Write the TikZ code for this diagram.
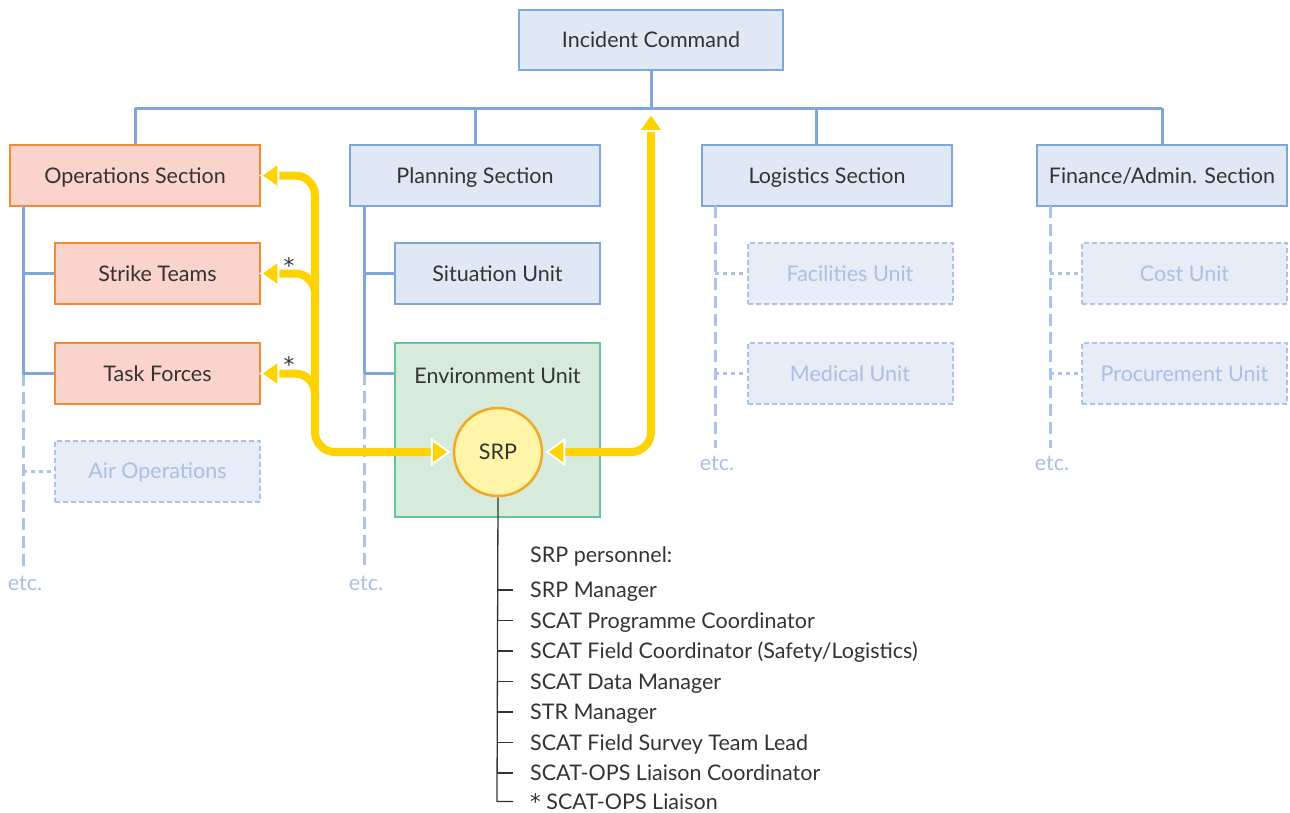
\documentclass[tikz,border=0pt]{standalone}
\usepackage{fontspec}
\setmainfont{Lato}
\newfontfamily\starfont{DejaVu Sans}
\usetikzlibrary{arrows.meta}

\definecolor{secfill}{HTML}{E0E8F5}
\definecolor{secline}{HTML}{7EA6DA}
\definecolor{opsfill}{HTML}{FAD4CA}
\definecolor{opsline}{HTML}{F58A2E}
\definecolor{envfill}{HTML}{D7EBDD}
\definecolor{envline}{HTML}{62C59B}
\definecolor{srpfill}{HTML}{FFF5A8}
\definecolor{srpline}{HTML}{F5A623}
\definecolor{ghostfill}{HTML}{E7ECF6}
\definecolor{ghostline}{HTML}{ABC3EA}
\definecolor{ghosttext}{HTML}{A9BFE6}
\definecolor{ink}{HTML}{333333}
\definecolor{flowc}{HTML}{FFD300}

\newcommand{\starmark}{{\starfont *}}

\tikzset{
  txt/.style={font=\fontsize{21.5}{26}\selectfont, text=ink, inner sep=0pt,
    text height=16pt, text depth=1pt},
  box/.style={txt, rectangle, line width=2.5pt, minimum height=61pt},
  section/.style={box, draw=secline, fill=secfill, minimum width=250pt},
  unitbox/.style={box, draw=secline, fill=secfill, minimum width=205pt},
  opsbox/.style={draw=opsline, fill=opsfill},
  ghost/.style={unitbox, draw=ghostline, fill=ghostfill, text=ghosttext,
    line width=2pt, dash pattern=on 5pt off 3pt},
  envbox/.style={rectangle, draw=envline, fill=envfill, line width=2.5pt,
    minimum width=205pt, minimum height=174pt},
  srpnode/.style={txt, circle, draw=srpline, fill=srpfill, line width=2.5pt,
    minimum size=88pt},
  tree/.style={draw=secline, line width=3pt},
  treedash/.style={draw=ghostline, line width=3pt, dash pattern=on 12pt off 6pt},
  treedot/.style={draw=ghostline, line width=3pt, dash pattern=on 4pt off 4pt},
  etcnode/.style={txt, text=ghosttext},
  flowline/.style={draw=flowc, line width=8pt, rounded corners=20pt,
    >={Triangle[length=20pt,width=28pt,fill=flowc,color=white,line width=2pt]}},
  staff/.style={draw=ink, line width=1.3pt},
  item/.style={txt, anchor=west},
}

\begin{document}
\begin{tikzpicture}[x=1pt,y=-1pt]
\useasboundingbox (0,0) rectangle (1290,812);

% --- command and sections
\node[section, minimum width=264pt, minimum height=60pt] (ic) at (651,40) {Incident Command};
\node[section, opsbox] (ops) at (135,175.5) {Operations Section};
\node[section] (plan) at (475,175.5) {Planning Section};
\node[section] (log) at (827,175.5) {Logistics Section};
\node[section] (fin) at (1162,175.5) {Finance/Admin. Section};

\coordinate (bus) at (651,108);
\coordinate (logdrop) at (816,108);
\draw[tree] (ops.north |- bus) -- (fin.north |- bus);
\draw[tree] (ic.south) -- (bus);
\draw[tree] (ops.north) -- (ops.north |- bus);
\draw[tree] (plan.north) -- (plan.north |- bus);
\draw[tree] (log.north -| logdrop) -- (logdrop);
\draw[tree] (fin.north) -- (fin.north |- bus);

% --- operations
\node[unitbox, opsbox] (st) at (157.5,273.5) {Strike Teams};
\node[unitbox, opsbox] (tf) at (157.5,373.5) {Task Forces};
\node[ghost] (air) at (157.5,471) {Air Operations};
\coordinate (opsspine) at (23,206);
\coordinate (opsend) at (23,568);
\draw[tree] (opsspine) -- (opsspine |- tf);
\draw[treedash] (opsspine |- tf) -- (opsend);
\draw[tree] (opsspine |- st) -- (st.west);
\draw[tree] (opsspine |- tf) -- (tf.west);
\draw[treedot] (opsspine |- air) -- (air.west);
\node[etcnode] (etc1) at (25,583) {etc.};

% --- planning
\node[unitbox] (sit) at (497.5,273.5) {Situation Unit};
\node[envbox] (env) at (497.5,430) {};
\node[txt] (envlabel) at (497.5,376) {Environment Unit};
\node[srpnode] (srp) at (498,452) {SRP};
\coordinate (planspine) at (364,206);
\coordinate (planend) at (364,568);
\coordinate (envjoin) at (364,373);
\draw[tree] (planspine) -- (envjoin);
\draw[treedash] (envjoin) -- (planend);
\draw[tree] (planspine |- sit) -- (sit.west);
\draw[tree] (envjoin) -- (envjoin -| env.west);
\node[etcnode] (etc2) at (366,583) {etc.};

% --- logistics
\node[ghost] (fac) at (850,273.5) {Facilities Unit};
\node[ghost] (med) at (850,373.5) {Medical Unit};
\coordinate (logspine) at (715,206);
\draw[treedash] (logspine) -- (715,448);
\draw[treedot] (logspine |- fac) -- (fac.west);
\draw[treedot] (logspine |- med) -- (med.west);
\node[etcnode] (etc3) at (717,463) {etc.};

% --- finance
\node[ghost] (cost) at (1184.5,273.5) {Cost Unit};
\node[ghost] (proc) at (1184.5,373.5) {Procurement Unit};
\coordinate (finspine) at (1050,206);
\draw[treedash] (finspine) -- (1050,448);
\draw[treedot] (finspine |- cost) -- (cost.west);
\draw[treedot] (finspine |- proc) -- (proc.west);
\node[etcnode] (etc4) at (1052,463) {etc.};

% --- reporting links of the SRP
\coordinate (trunk) at (315,452);
\draw[flowline, <->, shorten <=-2pt, shorten >=2pt] (ops.east) -| (trunk) -- (srp.west);
\draw[flowline, ->, shorten >=-2pt] (315,300) |- (st.east);
\draw[flowline, ->, shorten >=-2pt] (315,400) |- (tf.east);
\draw[flowline, <->, shorten <=2pt, shorten >=4pt] (srp.east) -| (bus);
\node[txt] (star1) at (289,266) {\starmark};
\node[txt] (star2) at (289,365) {\starmark};

% --- SRP personnel
\node[item] (head) at (530,555) {SRP personnel:};
\node[item] (p1) at (530,590) {SRP Manager};
\node[item] (p2) at (530,620.5) {SCAT Programme Coordinator};
\node[item] (p3) at (530,651) {SCAT Field Coordinator (Safety/Logistics)};
\node[item] (p4) at (530,681.5) {SCAT Data Manager};
\node[item] (p5) at (530,712) {STR Manager};
\node[item] (p6) at (530,742.5) {SCAT Field Survey Team Lead};
\node[item] (p7) at (530,773) {SCAT-OPS Liaison Coordinator};
\node[item] (p8) at (530,801.5) {\starmark{} SCAT-OPS Liaison};
\coordinate (staffx) at (497,0);
\draw[staff] (srp.south) -- (staffx |- p8) -- ++(16,0);
\foreach \p in {p1,p2,p3,p4,p5,p6,p7}
  \draw[staff] (staffx |- \p) -- ++(16,0);
\end{tikzpicture}
\end{document}
